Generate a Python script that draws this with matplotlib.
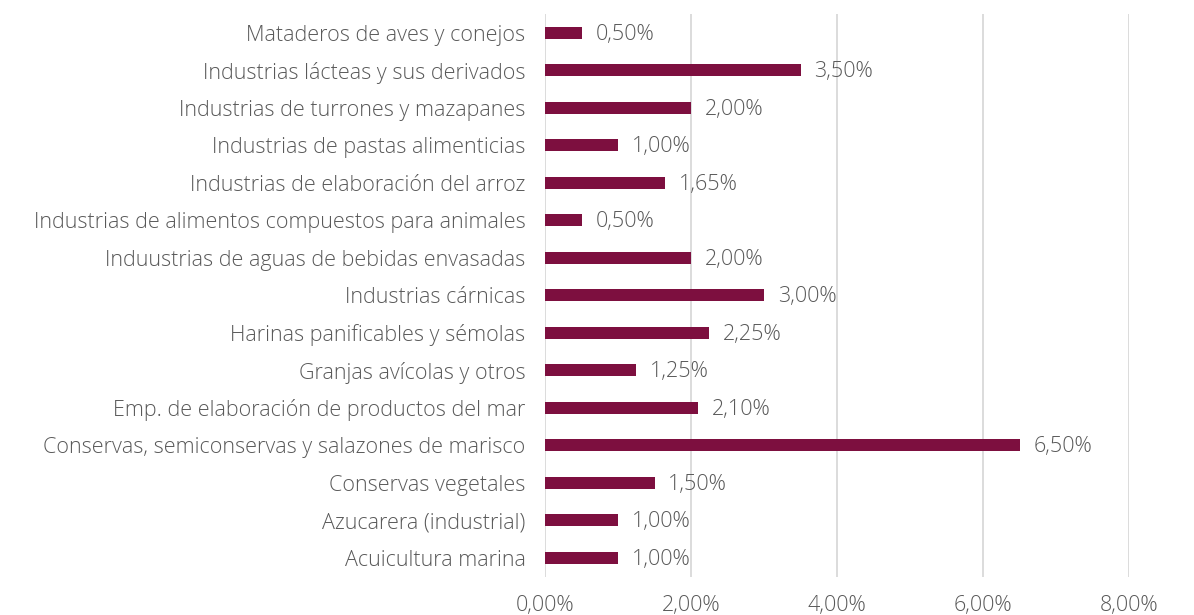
import matplotlib
matplotlib.use("Agg")
from matplotlib import pyplot as plt
from matplotlib.ticker import FuncFormatter

# categories, top to bottom as in the chart
sectores = [
    "Mataderos de aves y conejos",
    "Industrias lácteas y sus derivados",
    "Industrias de turrones y mazapanes",
    "Industrias de pastas alimenticias",
    "Industrias de elaboración del arroz",
    "Industrias de alimentos compuestos para animales",
    "Induustrias de aguas de bebidas envasadas",
    "Industrias cárnicas",
    "Harinas panificables y sémolas",
    "Granjas avícolas y otros",
    "Emp. de elaboración de productos del mar",
    "Conservas, semiconservas y salazones de marisco",
    "Conservas vegetales",
    "Azucarera (industrial)",
    "Acuicultura marina",
]
valores = [0.50, 3.50, 2.00, 1.00, 1.65, 0.50, 2.00, 3.00, 2.25, 1.25, 2.10, 6.50, 1.50, 1.00, 1.00]
xticks = [0, 2, 4, 6, 8]

plt.rcParams['font.family'] = ['Open Sans', 'DejaVu Sans']
plt.rcParams['font.weight'] = 'light'

gris = '#595959'
granate = '#7D0F3F'
fs = 15.5

def pct(v, pos=None):
    return ("%.2f%%" % v).replace('.', ',')

fig = plt.figure(figsize=(11.94, 6.15), dpi=100)
ax = fig.add_axes([545/1194, 1 - 576.5/615, (1129-545)/1194, 562.5/615])

y = list(range(len(sectores)))
ax.barh(y, valores, height=0.32, color=granate, zorder=3)
for yi, v in zip(y, valores):
    ax.annotate(pct(v), (v, yi), xytext=(10, -1), textcoords='offset points',
                va='center', ha='left', fontsize=fs, color=gris)

ax.set_ylim(len(sectores) - 0.5, -0.5)
ax.set_xlim(0, 8)
ax.set_yticks(y)
ax.set_yticklabels(sectores, fontsize=fs, color=gris)
ax.set_xticks(xticks)
ax.xaxis.set_major_formatter(FuncFormatter(pct))
ax.tick_params(axis='x', labelsize=fs, labelcolor=gris, length=0, pad=13)
ax.tick_params(axis='y', length=0, pad=14)
ax.grid(axis='x', color='#d9d9d9', linewidth=1.3, zorder=0)
for s in ax.spines.values():
    s.set_visible(False)

fig.savefig("out.png", dpi=100)
